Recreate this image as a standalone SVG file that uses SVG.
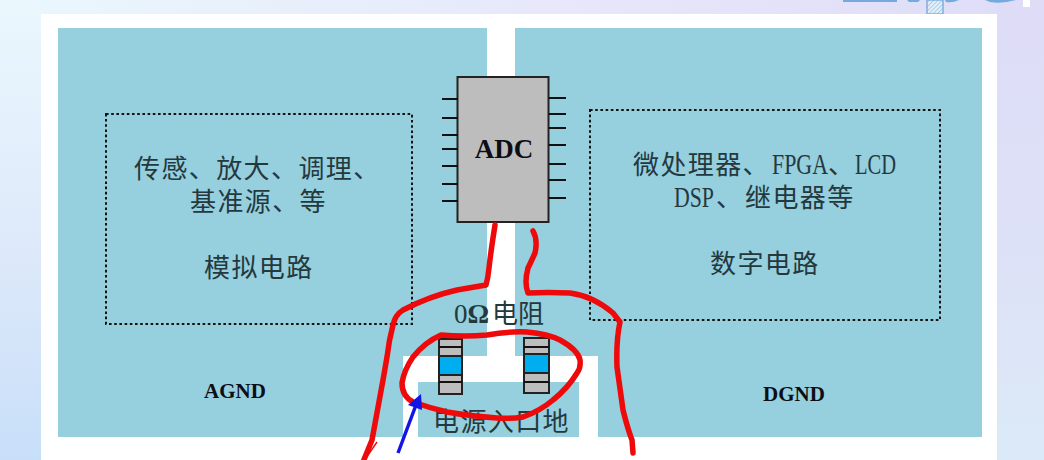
<svg xmlns="http://www.w3.org/2000/svg" width="1044" height="460" viewBox="0 0 1044 460">
<style>
.plane{fill:#96cfdd}
.box{fill:none;stroke:#111;stroke-width:2;stroke-dasharray:2.6 2.6}
.t{font-family:"Noto Sans CJK SC","Liberation Serif",serif;font-size:26px;letter-spacing:1.4px;fill:#24393e}
.l{font-family:"Liberation Serif",serif;font-size:29px;letter-spacing:0}
.z{font-family:"Liberation Serif",serif;font-size:27px;letter-spacing:0}
.b{font-family:"Liberation Serif",serif;font-weight:bold;fill:#0d0d14;text-anchor:middle}
.pin{stroke:#111;stroke-width:2;fill:none}
.red{fill:none;stroke:#ee0a0a;stroke-width:5.5;stroke-linecap:round;stroke-linejoin:round}
.rg{fill:#bdbdbd;stroke:#222;stroke-width:2}
.rb{fill:#00aeef;stroke:#222;stroke-width:2}
</style>
<defs>
<linearGradient id="top" x1="0" y1="0" x2="1" y2="0">
<stop offset="0" stop-color="#eaf7fd"/><stop offset="0.6" stop-color="#e6e6fa"/><stop offset="1" stop-color="#dedcf7"/>
</linearGradient>
<linearGradient id="left" x1="0" y1="0" x2="0" y2="1">
<stop offset="0" stop-color="#eaf7fd"/><stop offset="0.5" stop-color="#dfeafa"/><stop offset="1" stop-color="#c8dff9"/>
</linearGradient>
<linearGradient id="right" x1="0" y1="0" x2="0" y2="1">
<stop offset="0" stop-color="#dedcf7"/><stop offset="0.6" stop-color="#dde2f7"/><stop offset="1" stop-color="#dbeaf8"/>
</linearGradient>
<pattern id="hatch" width="3" height="3" patternUnits="userSpaceOnUse" patternTransform="rotate(45)">
<rect width="3" height="3" fill="#e6f0f8"/><rect width="1" height="3" fill="#a9cbe6"/>
</pattern>
</defs>
<rect width="1044" height="14" fill="url(#top)"/>
<rect y="0" width="41" height="460" fill="url(#left)"/>
<rect x="997" y="0" width="47" height="460" fill="url(#right)"/>
<path d="M843 0H897V2H843ZM907 0H920L918 2H909ZM945 0H959Q953 3 946 2ZM985 0H1016Q1002 4 990 2Z" fill="#74aadd"/>
<rect x="927" y="0" width="16" height="14" fill="url(#hatch)" stroke="#7fb0e0" stroke-width="1.500"/>
<rect x="1023" y="0" width="7" height="7" fill="#fff"/>
<rect x="41" y="14" width="956" height="446" fill="#fff"/>
<g id="agnd"><path class="plane" d="M58 28H487V356H403V437H58Z"/><text class="b" x="235" y="398" font-size="21">AGND</text></g>
<g id="dgnd"><path class="plane" d="M515 28H982V437H598V356H515Z"/><text class="b" x="794" y="401" font-size="21">DGND</text></g>
<g id="power"><rect class="plane" x="418" y="382" width="161" height="55"/><text class="t" x="433" y="431">电源入口地</text></g>
<g id="analog"><rect class="box" x="106" y="114" width="306" height="210"/>
<text class="t" x="134" y="178">传感、放大、调理、</text><text class="t" x="190" y="211">基准源、等</text><text class="t" x="204" y="277">模拟电路</text></g>
<g id="digital"><rect class="box" x="590" y="110" width="350" height="210"/>
<text class="t" x="633" y="174">微处理器、<tspan class="l" x="772" textLength="56" lengthAdjust="spacingAndGlyphs">FPGA</tspan><tspan x="828">、</tspan><tspan class="l" x="855" textLength="41" lengthAdjust="spacingAndGlyphs">LCD</tspan></text>
<text class="t" x="674" y="207"><tspan class="l" textLength="40" lengthAdjust="spacingAndGlyphs">DSP</tspan><tspan x="716">、</tspan><tspan x="745">继电器等</tspan></text>
<text class="t" x="710" y="273">数字电路</text></g>
<g id="adc"><rect x="457.500" y="77" width="91" height="145" fill="#bdbdbd" stroke="#222" stroke-width="2"/>
<path class="pin" d="M442 99H458M442 118H458M442 135H458M442 149H458M442 166H458M442 184H458M442 201H458M549 98H566M549 114H566M549 128H566M549 145H566M549 164H566M549 180H566M549 198H566"/>
<text class="b" x="504" y="158" font-size="27">ADC</text></g>
<g id="r1"><rect class="rg" x="439" y="339" width="23" height="55"/><rect class="rb" x="439" y="356" width="23" height="19"/><path class="pin" d="M439 347H462M439 382H462"/></g>
<g id="r2"><rect class="rg" x="524" y="338" width="25" height="55"/><rect class="rb" x="524" y="354" width="25" height="19"/><path class="pin" d="M524 347H549M524 382H549"/></g>
<g id="label"><text class="t" x="454" y="323" style="letter-spacing:0"><tspan class="z">0</tspan><tspan class="z" font-weight="bold">Ω</tspan><tspan x="492">电阻</tspan></text></g>
<g id="connectors">
<path class="red" d="M495 225Q491 250 489 268Q488 278 486 285L457 290Q430 296 403 310Q395 315 393 325Q389 340 387 357L383 380L372 440L363 462"/>
<path d="M377 442L366 458" stroke="#ee0a0a" stroke-width="1.5" fill="none"/>
<path class="red" d="M533 231Q538 240 535 253Q530 264 528 268Q524 283 528 293Q547 292 570 293Q593 296 613 313L620 322Q616 340 617 367L623 410Q628 430 632 440L633 453"/>
<path class="red" d="M402 383Q404 370 413 357Q425 342 441 335Q465 337 487 335Q510 331 527 332Q548 334 560 340Q578 350 580 360Q581 368 577 373Q568 388 553 400Q540 411 523 417Q510 419 497 418Q470 416 447 412Q430 408 413 402Q402 396 402 383Z"/>
<path d="M398 453L416 405" stroke="#1414e6" stroke-width="3.500" fill="none"/>
<path d="M421 394L408 405L422 410Z" fill="#1414e6"/>
</g>
</svg>
